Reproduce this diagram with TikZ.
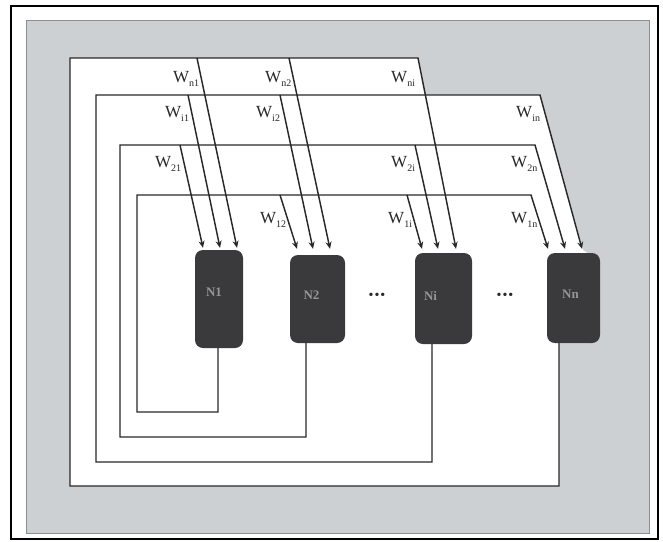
\documentclass[tikz,border=0pt]{standalone}
\usepackage{fontspec}
\setmainfont{Liberation Serif}
\usetikzlibrary{arrows.meta}
\definecolor{panel}{RGB}{205,208,211}
\definecolor{panelline}{RGB}{140,142,145}
\definecolor{cellfill}{RGB}{58,58,60}
\definecolor{celltext}{RGB}{150,150,152}
\definecolor{wirecol}{RGB}{40,40,40}
\tikzset{
  wire/.style={draw=wirecol, line width=1.45pt},
  arr/.style={wire, -{Stealth[length=7pt,width=6pt]}},
  neuron/.style={fill=cellfill, rounded corners=8pt, inner sep=0pt},
  celllab/.style={text=celltext, font=\fontsize{13}{13}\selectfont\bfseries},
  wlab/.style={anchor=base west, inner sep=0pt, text=wirecol, font=\fontsize{17}{17}\selectfont},
  dotlab/.style={inner sep=0pt, text=wirecol, font=\fontsize{14}{14}\selectfont}
}
\newcommand{\Wsub}[1]{W\raisebox{-4pt}{\fontsize{10}{10}\selectfont #1}}
\begin{document}
\begin{tikzpicture}[x=1pt,y=-1pt]
\useasboundingbox (0,0) rectangle (663,541);
\fill[white] (0,0) rectangle (663,541);
\draw[line width=2pt, black] (11,6) rectangle (658,539);
\draw[fill=panel, draw=panelline, line width=1pt] (26,20) rectangle (649,533);
% white area enclosed by the outer feedback loop
\fill[white] (70,58) -- (418,58) -- (425.5,95) -- (540,95) -- (583,250) -- (590,255)
  -- (590,343) -- (559,343) -- (559,486) -- (70,486) -- cycle;

% neurons
\node[neuron, minimum width=48pt, minimum height=98pt,
  label={[celllab, xshift=-5pt, yshift=7pt]center:N1}] (b1) at (219,299) {};
\node[neuron, minimum width=55pt, minimum height=88pt,
  label={[celllab, xshift=-6pt, yshift=4pt]center:N2}] (b2) at (317.5,299) {};
\node[neuron, minimum width=57pt, minimum height=91pt,
  label={[celllab, xshift=-13pt, yshift=3pt]center:Ni}] (bi) at (443.5,298.5) {};
\node[neuron, minimum width=53pt, minimum height=90pt,
  label={[celllab, xshift=-3pt, yshift=4pt]center:Nn}] (bn) at (573.5,298) {};

\node[dotlab] (d1) at (377,296) {•\kern1pt•\kern1pt•};
\node[dotlab] (d2) at (505,296) {•\kern1pt•\kern1pt•};

% arrow targets on neuron tops
\coordinate (b1a1) at ([xshift=-16pt,yshift=2pt]b1.north);
\coordinate (b1a2) at ([xshift=1pt,yshift=2pt]b1.north);
\coordinate (b1a3) at ([xshift=18pt,yshift=2pt]b1.north);
\coordinate (b2a1) at ([xshift=-20.5pt,yshift=6pt]b2.north);
\coordinate (b2a2) at ([xshift=-4.5pt,yshift=6pt]b2.north);
\coordinate (b2a3) at ([xshift=12.5pt,yshift=6pt]b2.north);
\coordinate (bia1) at ([xshift=-21.5pt,yshift=4pt]bi.north);
\coordinate (bia2) at ([xshift=-5.5pt,yshift=4pt]bi.north);
\coordinate (bia3) at ([xshift=12.5pt,yshift=4pt]bi.north);
\coordinate (bna1) at ([xshift=-25.5pt,yshift=4pt]bn.north);
\coordinate (bna2) at ([xshift=-8.5pt,yshift=4pt]bn.north);
\coordinate (bna3) at ([xshift=8.5pt,yshift=4pt]bn.north);

% branch points on the feedback buses
\coordinate (j1a) at (280,195);
\coordinate (j1b) at (407,195);
\coordinate (j2a) at (180,145);
\coordinate (j2b) at (415,145);
\coordinate (j3a) at (188,95);
\coordinate (j3b) at (280,95);
\coordinate (j4a) at (197,58);
\coordinate (j4b) at (289,58);

% loop from neuron 1
\draw[arr] ([xshift=-1pt]b1.south) |- (137,412) |- (531,195) -- (bna1);
\draw[arr] (j1a) -- (b2a1);
\draw[arr] (j1b) -- (bia1);
% loop from neuron 2
\draw[arr] ([xshift=-11.5pt]b2.south) |- (120,437) |- (535,145) -- (bna2);
\draw[arr] (j2a) -- (b1a1);
\draw[arr] (j2b) -- (bia2);
% loop from neuron i
\draw[arr] ([xshift=-11.5pt]bi.south) |- (96,462) |- (540,95) -- (bna3);
\draw[arr] (j3a) -- (b1a2);
\draw[arr] (j3b) -- (b2a2);
% loop from neuron n
\draw[arr] ([xshift=-14.5pt]bn.south) |- (70,486) |- (418,58) -- (bia3);
\draw[arr] (j4a) -- (b1a3);
\draw[arr] (j4b) -- (b2a3);

% weight labels
\node[wlab] (wn1) at (173,82) {\Wsub{n1}};
\node[wlab] (wn2) at (265,82) {\Wsub{n2}};
\node[wlab] (wni) at (391,82) {\Wsub{ni}};
\node[wlab] (wi1) at (165,117) {\Wsub{i1}};
\node[wlab] (wi2) at (256,117) {\Wsub{i2}};
\node[wlab] (win) at (516,117) {\Wsub{in}};
\node[wlab] (w21) at (155,167) {\Wsub{21}};
\node[wlab] (w2i) at (391,167) {\Wsub{2i}};
\node[wlab] (w2n) at (511,167) {\Wsub{2n}};
\node[wlab] (w12) at (260,223) {\Wsub{12}};
\node[wlab] (w1i) at (388,223) {\Wsub{1i}};
\node[wlab] (w1n) at (511,223) {\Wsub{1n}};
\end{tikzpicture}
\end{document}
